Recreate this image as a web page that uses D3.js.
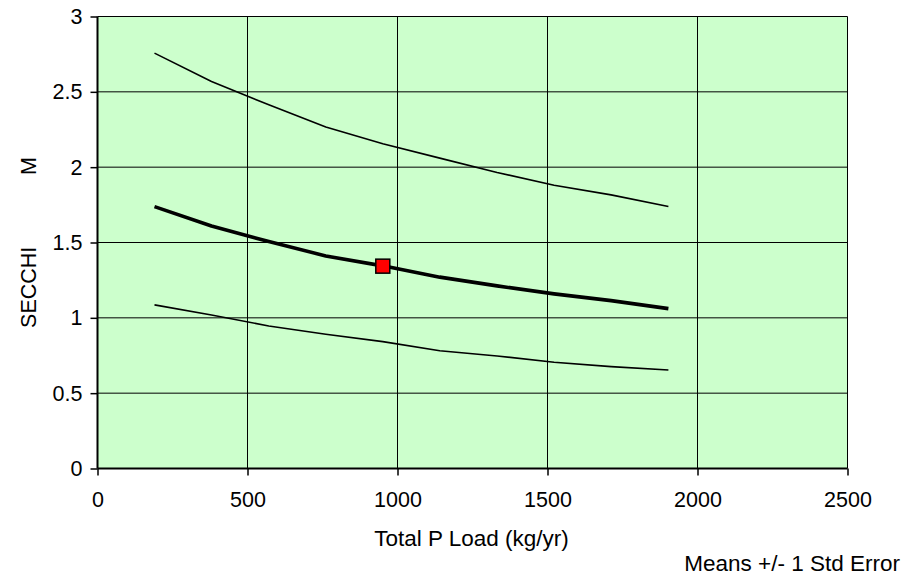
<!DOCTYPE html>
<html>
<head>
<meta charset="utf-8">
<script src="https://cdn.jsdelivr.net/npm/d3@7"></script>
<style>
  html, body { margin: 0; padding: 0; background: #ffffff; }
  svg { display: block; font-family: "Liberation Sans", Arial, sans-serif; }
</style>
</head>
<body>
<svg id="chart" width="903" height="575"></svg>
<script>
// ---- data ----
const loads = [190, 380, 571, 761, 951, 1141, 1332, 1522, 1712, 1903];
const upper = [2.757, 2.568, 2.414, 2.266, 2.155, 2.06, 1.965, 1.88, 1.816, 1.739];
const mean  = [1.738, 1.61, 1.506, 1.411, 1.345, 1.27, 1.212, 1.159, 1.114, 1.061];
const lower = [1.086, 1.019, 0.946, 0.891, 0.842, 0.782, 0.747, 0.705, 0.676, 0.654];
const observed = [{load: 951, secchi: 1.343}];
const xTicks = [0, 500, 1000, 1500, 2000, 2500];
const yTicks = [0, 0.5, 1, 1.5, 2, 2.5, 3];
const xTitle = "Total P Load (kg/yr)";
const yTitle = "SECCHI            M";
const note = "Means +/- 1 Std Error";

// ---- layout ----
const svg = d3.select("#chart");
const pL = 97.5, pR = 847.5, pT = 16.5, pB = 468.5;
const x = d3.scaleLinear().domain([0, 2500]).range([pL, pR]);
const y = d3.scaleLinear().domain([0, 3]).range([pB, pT]);

svg.append("rect")
  .attr("x", pL).attr("y", pT)
  .attr("width", pR - pL).attr("height", pB - pT)
  .attr("fill", "#CCFFCC");

// gridlines
svg.append("g").selectAll("line").data(xTicks.slice(1)).join("line")
  .attr("x1", d => x(d)).attr("x2", d => x(d))
  .attr("y1", pT).attr("y2", pB)
  .attr("stroke", "#000").attr("stroke-width", 1);
svg.append("g").selectAll("line").data(yTicks.slice(1)).join("line")
  .attr("x1", pL).attr("x2", pR)
  .attr("y1", d => y(d)).attr("y2", d => y(d))
  .attr("stroke", "#000").attr("stroke-width", 1);

// axes
const xAxis = svg.append("g").attr("transform", `translate(0,${pB})`)
  .call(d3.axisBottom(x).tickValues(xTicks).tickSize(7).tickPadding(16).tickFormat(d3.format("d")));
const yAxis = svg.append("g").attr("transform", `translate(${pL},0)`)
  .call(d3.axisLeft(y).tickValues(yTicks).tickSize(7).tickPadding(8).tickFormat(d => String(d)));
[xAxis, yAxis].forEach(g => {
  g.select(".domain").attr("stroke", "#000").attr("stroke-width", 2);
  g.selectAll(".tick line").attr("stroke", "#000").attr("stroke-width", 1.5);
  g.selectAll("text").attr("fill", "#000")
    .style("font-family", '"Liberation Sans", Arial, sans-serif').style("font-size", "21.5px");
});
xAxis.select(".domain").attr("d", `M${pL},0H${pR}`);
yAxis.select(".domain").attr("d", `M0,${pB}V${pT}`);

// lines
const line = d3.line().x((d, i) => x(loads[i])).y(d => y(d));
[[upper, 1.6], [lower, 1.6], [mean, 3.6]].forEach(([s, w]) => {
  svg.append("path").datum(s).attr("d", line)
    .attr("fill", "none").attr("stroke", "#000").attr("stroke-width", w)
    .attr("stroke-linejoin", "round");
});

// observed point
svg.append("g").selectAll("rect").data(observed).join("rect")
  .attr("x", d => x(d.load) - 7).attr("y", d => y(d.secchi) - 7)
  .attr("width", 14).attr("height", 14)
  .attr("fill", "#FF0000").attr("stroke", "#000").attr("stroke-width", 1.5);

// titles
svg.append("text").attr("x", (pL + pR) / 2 - 1).attr("y", 546)
  .attr("text-anchor", "middle").style("font-size", "22.5px").text(xTitle);
svg.append("text")
  .attr("transform", `translate(36,${(pT + pB) / 2}) rotate(-90)`)
  .attr("text-anchor", "middle").style("font-size", "21.5px").style("white-space", "pre")
  .text(yTitle);
svg.append("text").attr("x", 900).attr("y", 571)
  .attr("text-anchor", "end").style("font-size", "22.5px").text(note);
</script>
</body>
</html>
